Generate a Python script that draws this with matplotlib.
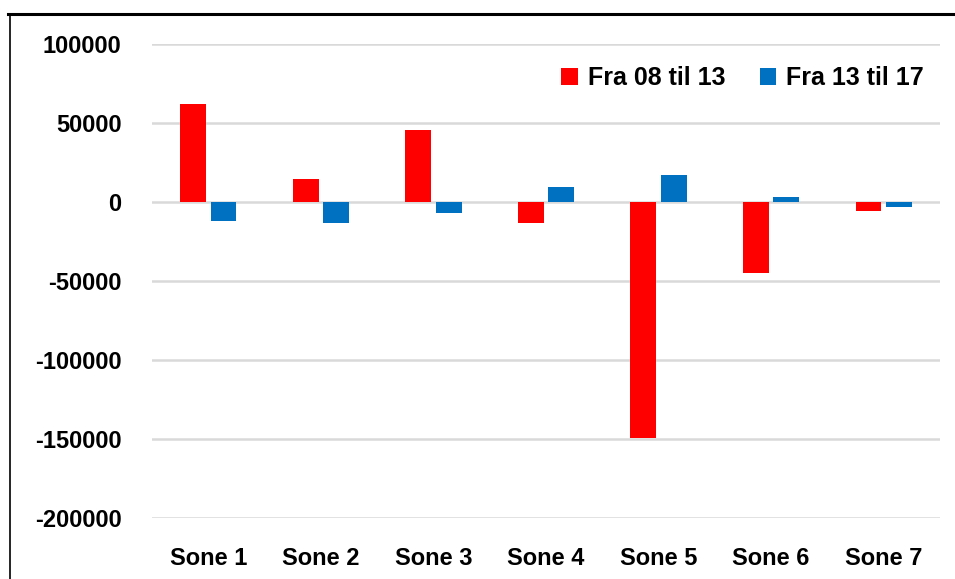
import matplotlib
matplotlib.use("Agg")
import matplotlib.pyplot as plt
import numpy as np
from matplotlib.lines import Line2D

categories = ["Sone 1", "Sone 2", "Sone 3", "Sone 4", "Sone 5", "Sone 6", "Sone 7"]
series_names = ["Fra 08 til 13", "Fra 13 til 17"]
fra_08_til_13 = [62000, 14700, 45300, -13200, -149500, -44900, -5900]
fra_13_til_17 = [-11900, -13200, -6800, 9600, 16900, 3000, -3400]
yticks = [-200000, -150000, -100000, -50000, 0, 50000, 100000]
colors = ["#FF0000", "#0070C0"]

plt.rcParams['font.family'] = ['Liberation Sans', 'DejaVu Sans']
plt.rcParams['font.weight'] = 'bold'

W, H = 955, 579
fig = plt.figure(figsize=(W / 100, H / 100), dpi=100)
ax = fig.add_axes([152 / W, (H - 518) / H, (940 - 152) / W, (518 - 44) / H])

x = np.arange(len(categories))
bw = 0.23
off = 0.135
ax.bar(x - off, fra_08_til_13, width=bw, color=colors[0], label=series_names[0], zorder=3)
ax.bar(x + off, fra_13_til_17, width=bw, color=colors[1], label=series_names[1], zorder=3)

ax.set_xlim(-0.5, len(categories) - 0.5)
ax.set_ylim(-200000, 100000)
ax.set_yticks(yticks)
ax.set_yticklabels([str(v) for v in yticks], fontsize=17, fontweight='bold')
ax.set_xticks(x)
ax.set_xticklabels(categories, fontsize=17, fontweight='bold')
ax.tick_params(axis='both', length=0)
ax.tick_params(axis='y', pad=22)
ax.tick_params(axis='x', pad=21)
for s in ax.spines.values():
    s.set_visible(False)
ax.grid(axis='y', color='#D9D9D9', linewidth=1.8, zorder=0)
ax.set_axisbelow(True)

leg = ax.legend(ncol=2, frameon=False, loc='upper right', bbox_to_anchor=(0.999, 0.985),
                prop={'size': 18, 'weight': 'bold'}, handlelength=0.65, handleheight=0.65,
                handletextpad=0.4, columnspacing=1.4, borderaxespad=0.2)

fig.add_artist(Line2D([8 / W, 1.0], [(H - 14) / H, (H - 14) / H], transform=fig.transFigure,
                      color='black', linewidth=2.2))
fig.add_artist(Line2D([9.5 / W, 9.5 / W], [0, (H - 14) / H], transform=fig.transFigure,
                      color='black', linewidth=1.2))

fig.savefig("out.png", dpi=100)
